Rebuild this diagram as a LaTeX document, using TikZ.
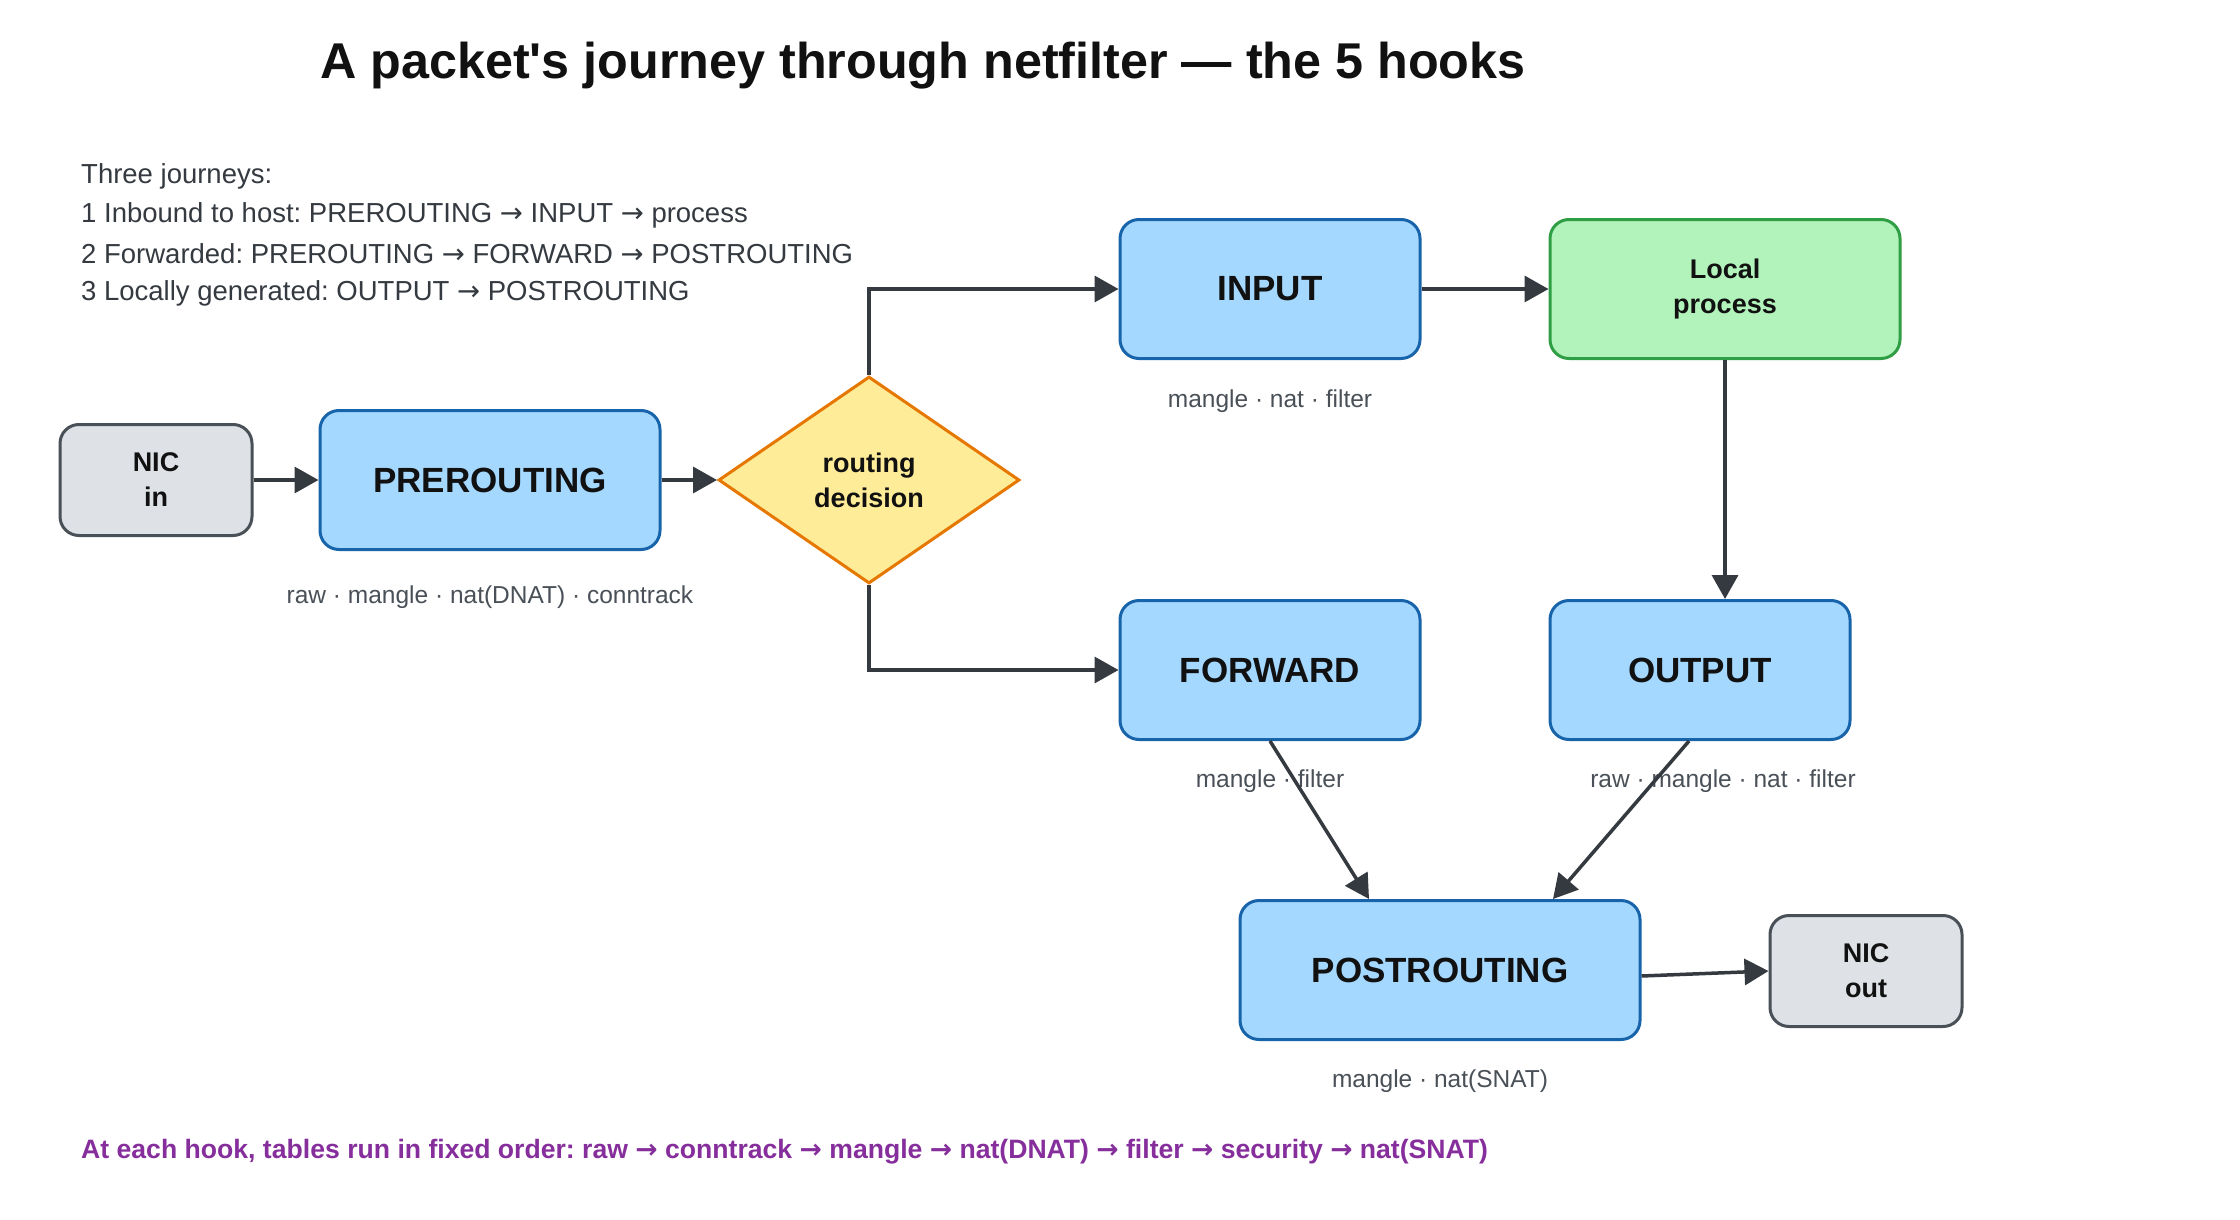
\documentclass[tikz,border=0pt]{standalone}
\usepackage{fontspec}
\setmainfont{Liberation Sans}[Ligatures=TeXOff]
\newfontfamily\arrfont{DejaVu Sans}
\newcommand{\ra}{{\arrfont →}}
\frenchspacing
\usetikzlibrary{arrows.meta,shapes.geometric,calc}
\definecolor{hookfill}{HTML}{A5D8FF}
\definecolor{hookdraw}{HTML}{1864AB}
\definecolor{procfill}{HTML}{B2F2BB}
\definecolor{procdraw}{HTML}{2F9E44}
\definecolor{nicfill}{HTML}{DEE2E6}
\definecolor{nicdraw}{HTML}{495057}
\definecolor{decfill}{HTML}{FFEC99}
\definecolor{decdraw}{HTML}{E67700}
\definecolor{arrcol}{HTML}{343A40}
\definecolor{txt}{HTML}{111111}
\definecolor{lbl}{HTML}{495057}
\definecolor{jrn}{HTML}{343A40}
\definecolor{foot}{HTML}{862E9C}
\tikzset{
  box/.style={rounded corners=19pt, line width=3pt, text=txt, align=center, inner sep=0pt},
  hook/.style={box, fill=hookfill, draw=hookdraw, minimum width=300pt, minimum height=139pt,
    font=\bfseries\fontsize{35}{42}\selectfont},
  proc/.style={box, fill=procfill, draw=procdraw, minimum width=350pt, minimum height=139pt,
    font=\bfseries\fontsize{27}{35}\selectfont},
  nic/.style={box, fill=nicfill, draw=nicdraw, minimum width=192pt, minimum height=111pt,
    font=\bfseries\fontsize{27}{35}\selectfont},
  dec/.style={diamond, aspect=1.45, fill=decfill, draw=decdraw, line width=3pt, text=txt,
    align=center, inner sep=0pt, minimum width=301pt, minimum height=207pt,
    font=\bfseries\fontsize{27}{35}\selectfont},
  arr/.style={draw=arrcol, line width=3.5pt, -{Triangle[length=24pt,width=26pt]}},
  tbl/.style={text=lbl, font=\fontsize{24.5}{30}\selectfont, inner sep=0pt},
  jline/.style={text=jrn, font=\fontsize{27.5}{33}\selectfont, anchor=west, inner sep=0pt},
}
\begin{document}
\begin{tikzpicture}[x=1pt,y=-1pt]
\useasboundingbox[fill=white] (0,0) rectangle (2240,1220);

\node[anchor=west, inner sep=0pt, text=txt, font=\bfseries\fontsize{50.3}{60}\selectfont] (title) at (320,66)
  {A packet's journey through netfilter — the 5 hooks};

\node[jline] (j0) at (81,176) {Three journeys:};
\node[jline] (j1) at (81,215) {1 Inbound to host: PREROUTING \ra{} INPUT \ra{} process};
\node[jline] (j2) at (81,254) {2 Forwarded: PREROUTING \ra{} FORWARD \ra{} POSTROUTING};
\node[jline] (j3) at (81,293) {3 Locally generated: OUTPUT \ra{} POSTROUTING};

\node[nic] (nicin) at (156,480) {NIC\\in};
\node[hook, minimum width=340pt] (pre) at (490,480) {PREROUTING};
\node[dec] (rd) at (869,480) {routing\\decision};
\node[hook] (input) at (1270,289) {INPUT};
\node[proc] (local) at (1725,289) {Local\\process};
\node[hook] (fwd) at (1270,670) {FORWARD};
\node[hook] (output) at (1700,670) {OUTPUT};
\node[hook, minimum width=400pt] (post) at (1440,970) {POSTROUTING};
\node[nic] (nicout) at (1866,971) {NIC\\out};

\node[tbl] (tpre) at (490,597) {raw · mangle · nat(DNAT) · conntrack};
\node[tbl] (tinput) at (1270,401) {mangle · nat · filter};
\node[tbl] (tfwd) at (1270,781) {mangle · filter};
\node[tbl] (tout) at (1723,781) {raw · mangle · nat · filter};
\node[tbl] (tpost) at (1440,1081) {mangle · nat(SNAT)};

\draw[arr] (nicin) -- (pre);
\draw[arr] (pre) -- (rd);
\draw[arr] (rd.north) |- (input.west);
\draw[arr] (rd.south) |- (fwd.west);
\draw[arr] (input) -- (local);
\draw[arr] (local.south) -- (local.south |- output.north);
\draw[arr] (fwd.south) -- ([xshift=-71pt]post.north);
\draw[arr] ([xshift=-11pt]output.south) -- ([xshift=113pt]post.north);
\draw[arr] ([yshift=-6pt]post.east) -- (nicout.west);

\node[anchor=west, inner sep=0pt, text=foot, font=\bfseries\fontsize{26.6}{32}\selectfont] (footer) at (81,1152)
  {At each hook, tables run in fixed order: raw \ra{} conntrack \ra{} mangle \ra{} nat(DNAT) \ra{} filter \ra{} security \ra{} nat(SNAT)};
\end{tikzpicture}
\end{document}
